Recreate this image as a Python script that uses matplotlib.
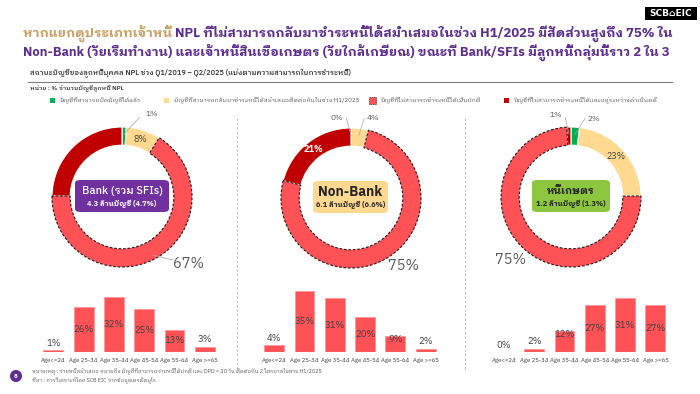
import matplotlib
matplotlib.use("Agg")
import matplotlib.pyplot as plt
import numpy as np
from matplotlib.patches import FancyBboxPatch, Rectangle, Ellipse
from matplotlib.lines import Line2D

plt.rcParams['font.family'] = ['IBM Plex Sans Thai Looped', 'DejaVu Sans']

# ---------------- data ----------------
status_labels = ["บัญชีที่สามารถปิดบัญชีได้แล้ว",
                 "บัญชีที่สามารถกลับมาชำระหนี้ได้สม่ำเสมอติดต่อกันในช่วง H1/2025",
                 "บัญชีที่ไม่สามารถชำระหนี้ได้เป็นปกติ",
                 "บัญชีที่ไม่สามารถชำระหนี้ได้และอยู่ระหว่างดำเนินคดี"]
bank_status = [1, 8, 67, 25]
nonbank_status = [0, 4, 75, 21]
agri_status = [2, 23, 75, 1]

group_names = ["Bank (รวม SFIs)", "Non-Bank", "หนี้เกษตร"]
group_accounts = ["4.3 ล้านบัญชี (4.7%)", "6.1 ล้านบัญชี (6.6%)", "1.2 ล้านบัญชี (1.3%)"]

age_groups = ["Age<=24", "Age 25-34", "Age 35-44", "Age 45-54", "Age 55-64", "Age >=65"]
bank_age = [1, 26, 32, 25, 13, 3]
nonbank_age = [4, 35, 31, 20, 9, 2]
agri_age = [0, 2, 12, 27, 31, 27]

# ---------------- styles ----------------
C_GREEN = "#00B050"
C_YEL = "#FFD98F"
C_RED = "#FF5257"
C_DRED = "#C00000"
status_colors = [C_GREEN, C_YEL, C_RED, C_DRED]
PURPLE = "#5B2D8E"
GOLD = "#C9A063"
GREY = "#595959"

W, H = 700, 394
fig = plt.figure(figsize=(W / 100, H / 100), dpi=100)
renderer = fig.canvas.get_renderer()


def fx(x):
    return x / W


def fy(y):
    return 1 - y / H


def fit_parts(x, y, parts, width_px, weight="normal", base=10):
    texts = []
    for s, c in parts:
        texts.append(fig.text(fx(x), fy(y), s, color=c, fontsize=base,
                              weight=weight, va="center", ha="left"))
    tot = sum(t.get_window_extent(renderer).width for t in texts)
    size = base * width_px / tot
    cur = x
    for t in texts:
        t.set_fontsize(size)
        t.set_x(fx(cur))
        cur += t.get_window_extent(renderer).width
    return texts


def fit_center(x, y, s, width_px, **kw):
    t = fig.text(fx(x), fy(y), s, fontsize=10, ha="center", va="center", **kw)
    w = t.get_window_extent(renderer).width
    t.set_fontsize(10 * width_px / w)
    return t


# ---------------- header ----------------
fig.patches.append(Rectangle((fx(645), fy(20)), 52 / W, 13 / H, transform=fig.transFigure,
                             facecolor="black", edgecolor="none"))
fig.text(fx(671), fy(13.5), "SCB⌂EIC", color="white", fontsize=6.5, weight="bold",
         ha="center", va="center", family=["DejaVu Sans"])

fit_parts(23, 33, [("หากแยกดูประเภทเจ้าหนี้ ", GOLD),
                   ("NPL ที่ไม่สามารถกลับมาชำระหนี้ได้สม่ำเสมอในช่วง H1/2025 มีสัดส่วนสูงถึง 75% ใน", PURPLE)],
          649, weight="bold")
fit_parts(23, 52, [("Non-Bank (วัยเริ่มทำงาน) และเจ้าหนี้สินเชื่อเกษตร (วัยใกล้เกษียณ) ขณะที่ Bank/SFIs มีลูกหนี้กลุ่มนี้ราว 2 ใน 3", PURPLE)],
          645, weight="bold")

fit_parts(30, 73, [("สถานะบัญชีของลูกหนี้บุคคล NPL ช่วง Q1/2019 – Q2/2025 (แบ่งตามความสามารถในการชำระหนี้)", "#262626")],
          322, weight="medium")
fig.add_artist(Line2D([fx(28), fx(672)], [fy(82), fy(82)], color="#7F7F7F", lw=0.8,
                      transform=fig.transFigure))
fit_parts(30, 89, [("หน่วย : % จำนวนบัญชีลูกหนี้ NPL", "#262626")], 95, weight="medium")

# legend
leg_x = [52, 166, 373, 506]
for i, (lx, lab) in enumerate(zip(leg_x, status_labels)):
    if i == 2:
        fig.patches.append(Rectangle((fx(lx - 3.5), fy(103.5)), 7 / W, 7 / H, transform=fig.transFigure,
                                     facecolor=status_colors[i], edgecolor="#222222", lw=0.5,
                                     linestyle=(0, (1.5, 1))))
    else:
        fig.patches.append(Rectangle((fx(lx - 2.5), fy(102.5)), 5 / W, 5 / H, transform=fig.transFigure,
                                     facecolor=status_colors[i], edgecolor="none"))
    fig.text(fx(lx + 8), fy(100), lab, fontsize=4.5, color=GREY, va="center", ha="left")

# separators
for sx in [237, 465]:
    fig.add_artist(Line2D([fx(sx), fx(sx)], [fy(118), fy(372)], color="#BFBFBF", lw=0.8,
                          linestyle=(0, (2, 2)), transform=fig.transFigure))

# ---------------- donuts ----------------
donut_centers = [(122, 197), (351, 198), (571, 197)]
all_status = [bank_status, nonbank_status, agri_status]
box_colors = ["#7030A0", C_YEL, "#8DC63F"]
box_text_colors = ["white", "#262626", "#262626"]
box_extent = [(75, 169), (313, 388), (532, 610)]
name_widths = [81, 64, 48]
outer_pos = [
    {0: (0.42, 1.18), 3: None, 2: (0.95, -0.95)},
    {0: (-0.2, 1.15), 1: (0.32, 1.15), 2: (0.75, -0.97)},
    {3: (-0.22, 1.17), 0: (0.33, 1.12), 2: (-0.87, -0.9)},
]
R = 70.0
for k, (cx, cy) in enumerate(donut_centers):
    ax = fig.add_axes([fx(cx - 80), fy(cy + 80), 160 / W, 160 / H])
    vals = all_status[k]
    wedges, _ = ax.pie(vals, colors=status_colors, startangle=90, counterclock=False,
                       radius=1.0, wedgeprops=dict(width=0.26, edgecolor="white", linewidth=0.8))
    wedges[2].set_edgecolor("#1a1a1a")
    wedges[2].set_linestyle((0, (2.4, 1.6)))
    wedges[2].set_linewidth(0.8)
    wedges[2].set_zorder(3)
    ax.set_xlim(-80 / R, 80 / R)
    ax.set_ylim(-80 / R, 80 / R)
    ax.set_aspect("equal")
    ax.axis("off")
    total = sum(vals)
    cum = np.cumsum([0] + vals)
    for i, v in enumerate(vals):
        th = np.deg2rad(90 - 360 * (cum[i] + v / 2) / total)
        pos = outer_pos[k].get(i, "inside")
        if i == 2:
            tx, ty = pos
            ax.text(tx, ty, f"{v}%", fontsize=10.5, color=GREY, ha="center", va="center")
            if k == 0:
                ax.plot([0.95 * np.cos(th), tx - 0.22], [0.95 * np.sin(th), ty + 0.05],
                        color="#A6A6A6", lw=0.6, zorder=4)
            continue
        if pos == "inside" and v >= 5:
            rr = 0.87
            col = "white" if i == 3 else "#404040"
            ax.text(rr * np.cos(th), rr * np.sin(th), f"{v}%", fontsize=6.5, color=col,
                    weight="bold" if i == 3 else "normal", ha="center", va="center", zorder=5)
        elif pos not in (None, "inside"):
            tx, ty = pos
            ax.text(tx, ty, f"{v}%", fontsize=6, color=GREY, ha="center", va="center")
            sx = tx - 0.13 if tx > 0 else tx + 0.13
            ax.plot([sx, 0.9 * np.cos(th)], [ty, 0.9 * np.sin(th)], color="#A6A6A6", lw=0.5, zorder=4)

    # centre box
    x0, x1 = box_extent[k]
    fig.patches.append(FancyBboxPatch((fx(x0), fy(cy + 15)), (x1 - x0) / W, 32 / H,
                                      boxstyle="round,pad=0,rounding_size=0.008",
                                      transform=fig.transFigure, facecolor=box_colors[k],
                                      edgecolor="none", zorder=5))
    fit_center((x0 + x1) / 2, cy - 6, group_names[k], name_widths[k], color=box_text_colors[k],
               weight="medium" if k == 0 else "bold", zorder=6)
    fit_center((x0 + x1) / 2, cy + 7, group_accounts[k], 69, color=box_text_colors[k],
               weight="bold", zorder=6)

# ---------------- bars ----------------
bar_c0 = [53.3, 274.2, 503.9]
all_age = [bank_age, nonbank_age, agri_age]
STEP = 30.3
PX_PER_PCT = 1.73
BASE = 352
for k in range(3):
    left = bar_c0[k] - 0.9 * STEP
    ax = fig.add_axes([fx(left), fy(BASE), 6.8 * STEP / W, 40 * PX_PER_PCT / H])
    vals = all_age[k]
    xs = np.arange(len(vals))
    ax.bar(xs, vals, width=0.66, color=C_RED, edgecolor="#FF8A8D", linewidth=0.4)
    ax.hlines(0, -0.45, 5.5, color="#D9D9D9", lw=0.8)
    ax.set_xlim(-0.9, 5.9)
    ax.set_ylim(0, 40)
    for sp in ax.spines.values():
        sp.set_visible(False)
    ax.set_yticks([])
    ax.set_xticks(xs, age_groups)
    ax.tick_params(axis="x", length=0, labelsize=4.3, labelcolor="#404040", pad=4.5)
    for xi, v in zip(xs, vals):
        if v >= 13:
            yl = v / 2
        elif v >= 5:
            yl = v - 1.8
        else:
            yl = v + 4
        ax.text(xi, yl, f"{v}%", fontsize=6.8, color="#404040", ha="center", va="center")

# ---------------- footer ----------------
fig.patches.append(Ellipse((fx(16), fy(376)), 12 / W, 12 / H, transform=fig.transFigure,
                           facecolor=PURPLE, edgecolor="none"))
fig.text(fx(16), fy(376), "8", fontsize=4.5, color="white", ha="center", va="center", weight="bold")
fit_parts(32, 371, [("หมายเหตุ : จ่ายหนี้สม่ำเสมอ หมายถึง บัญชีที่สามารถจ่ายหนี้ได้ปกติ และ DPD = 30 วัน ติดต่อกัน 2 ไตรมาสในช่วง H1/2025", GREY)], 292)
fit_parts(32, 380, [("ที่มา : การวิเคราะห์โดย SCB EIC จากข้อมูลเครดิตบูโร", GREY)], 125)

fig.savefig("out.png", dpi=100)
